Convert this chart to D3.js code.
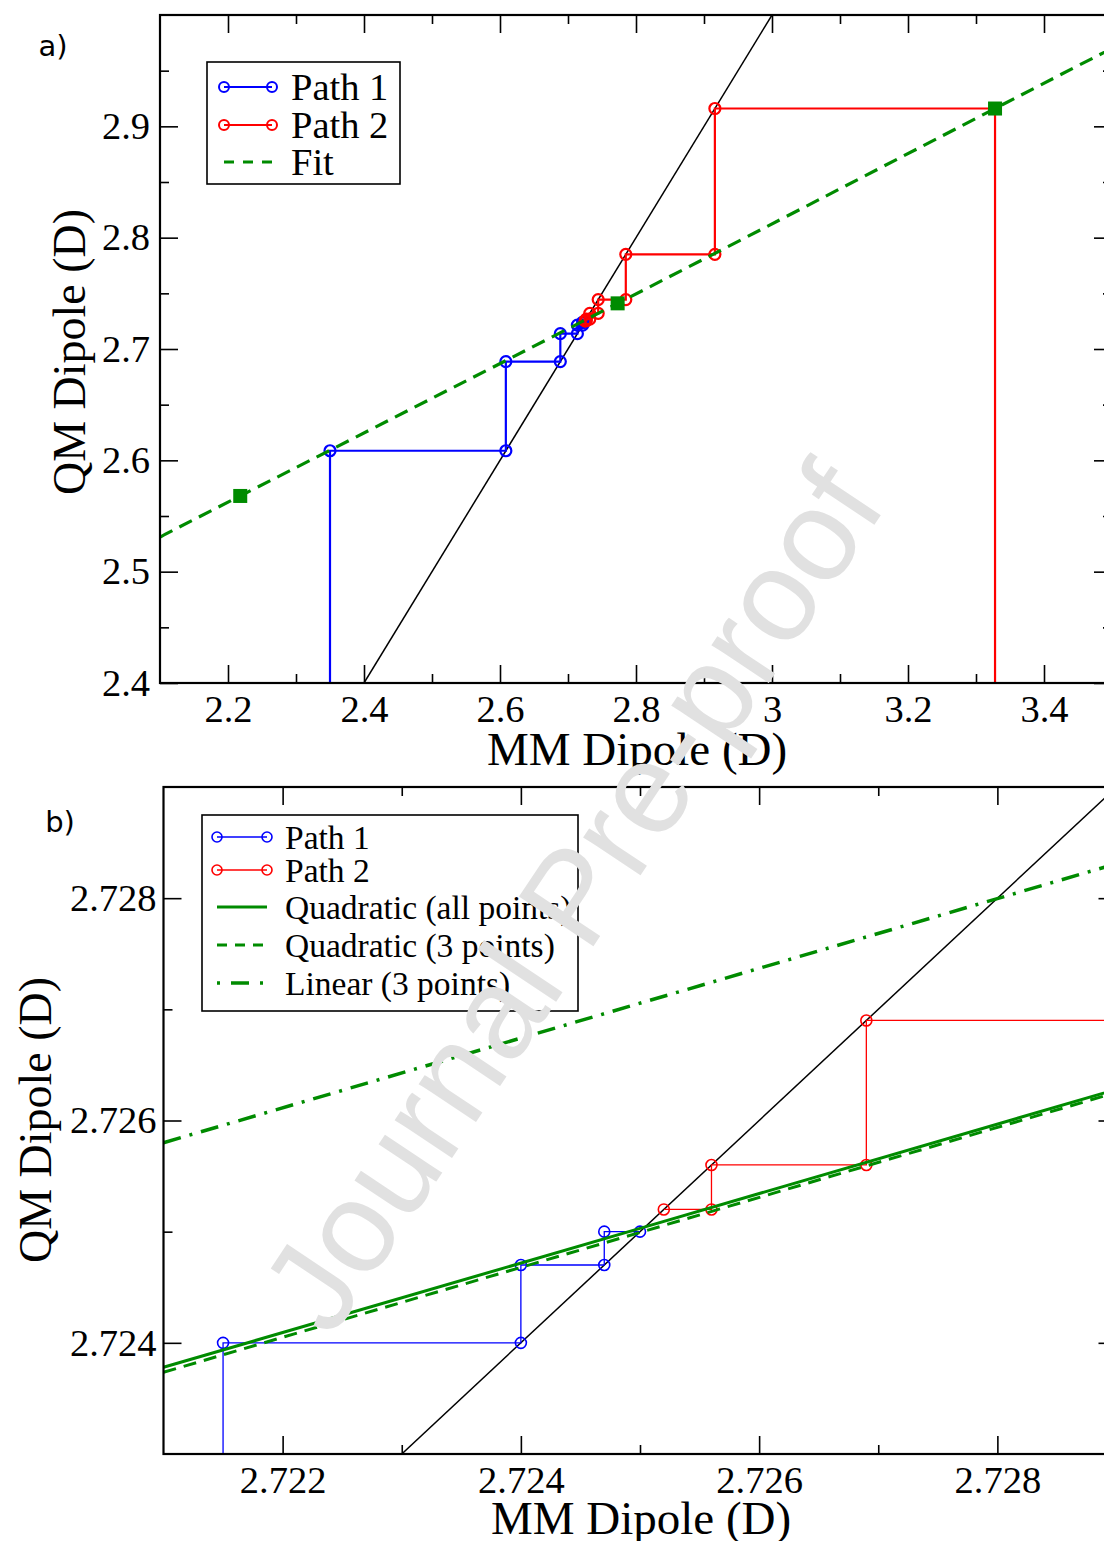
<!DOCTYPE html>
<html><head><meta charset="utf-8">
<script src="https://cdn.jsdelivr.net/npm/d3@7"></script>
<style>html,body{margin:0;padding:0;background:#fff;overflow:hidden}</style>
</head><body><svg id="c" width="1104" height="1541"></svg>
<script>
// ---------- data ----------
// Panel a
const path1MM = [2.35, 2.6086, 2.6887, 2.7138, 2.7215, 2.7240, 2.7247, 2.7250];
const path1QM = [2.6086, 2.6887, 2.7138, 2.7215, 2.7240, 2.7247, 2.7250];
const path2MM = [3.328, 2.916, 2.785, 2.7444, 2.732, 2.7269, 2.7256, 2.7252];
const path2QM = [2.916, 2.785, 2.7444, 2.732, 2.7269, 2.7256, 2.7252];
const pathStartQM = [2.3, 2.3];
const fitPointsMM = [2.218, 2.773, 3.328];
const fitPointsQM = [2.568, 2.741, 2.916];
const fitLineMM = [2.1, 2.218, 2.773, 3.328, 3.5];
const fitLineQM = [2.531, 2.568, 2.741, 2.916, 2.970];
const diagA = [2.4, 3.0];
// Panel b
const quadAllMM = [2.721, 2.725, 2.729];
const quadAllQM = [2.72378, 2.72503, 2.72628];
const quad3MM = [2.721, 2.725, 2.729];
const quad3QM = [2.723735, 2.724993, 2.726253];
const lin3MM = [2.721, 2.729];
const lin3QM = [2.72580, 2.72831];
const diagB = [2.723, 2.729];
// ticks
const xTicksA = [2.2, 2.4, 2.6, 2.8, 3.0, 3.2, 3.4];
const xTickLabelsA = ["2.2", "2.4", "2.6", "2.8", "3", "3.2", "3.4"];
const xMinorA = [2.3, 2.5, 2.7, 2.9, 3.1, 3.3];
const yTicksA = [2.4, 2.5, 2.6, 2.7, 2.8, 2.9];
const yTickLabelsA = ["2.4", "2.5", "2.6", "2.7", "2.8", "2.9"];
const yMinorA = [2.45, 2.55, 2.65, 2.75, 2.85, 2.95];
const xTicksB = [2.722, 2.724, 2.726, 2.728];
const xTickLabelsB = ["2.722", "2.724", "2.726", "2.728"];
const xMinorB = [2.723, 2.725, 2.727];
const yTicksB = [2.724, 2.726, 2.728];
const yTickLabelsB = ["2.724", "2.726", "2.728"];
const yMinorB = [2.725, 2.727];

// ---------- setup ----------
const svg = d3.select("#c");
const SERIF = "'Liberation Serif','Times New Roman',serif";
const SANS = "'DejaVu Sans',sans-serif";
const BLUE = "#0000ff", RED = "#ff0000", GREEN = "#008b00";

const xA = d3.scaleLinear([2.1, 3.5], [160, 1112]);
const yA = d3.scaleLinear([2.4, 3.0], [683, 15]);
const xB = d3.scaleLinear([2.721, 2.729], [163.5, 1116.5]);
const yB = d3.scaleLinear([2.723, 2.729], [1454, 787]);

const defs = svg.append("defs");
defs.append("clipPath").attr("id", "clipA").append("rect")
  .attr("x", xA.range()[0]).attr("y", yA.range()[1])
  .attr("width", xA.range()[1] - xA.range()[0]).attr("height", yA.range()[0] - yA.range()[1]);
defs.append("clipPath").attr("id", "clipB").append("rect")
  .attr("x", xB.range()[0]).attr("y", yB.range()[1])
  .attr("width", xB.range()[1] - xB.range()[0]).attr("height", yB.range()[0] - yB.range()[1]);

function cobweb(mm, qm, start) {
  const pts = [[mm[0], start]];
  for (let i = 0; i < qm.length; i++) {
    pts.push([mm[i], qm[i]]);
    if (i + 1 < mm.length) pts.push([mm[i + 1], qm[i]]);
  }
  return pts;
}
const zip = (a, b) => a.map((v, i) => [v, b[i]]);

function axes(x, y, xt, xtl, xm, yt, ytl, ym, padX, padY) {
  const g = svg.append("g");
  const fmt = (vals, labels) => (d) => labels[vals.indexOf(d)];
  const X0 = x.range()[0], X1 = x.range()[1], Y0 = y.range()[0], Y1 = y.range()[1];
  const mk = (sel, ax) => { sel.call(ax); sel.select(".domain").remove(); return sel; };
  const styl = (sel) => { sel.selectAll("line").attr("stroke", "#000").attr("stroke-width", 1.6);
    sel.selectAll("text").attr("font-family", SERIF).attr("font-size", 38.5).attr("fill", "#000"); };
  styl(mk(g.append("g").attr("transform", `translate(0,${Y0})`),
    d3.axisBottom(x).tickValues(xt).tickFormat(fmt(xt, xtl)).tickSize(-18).tickPadding(padX)));
  styl(mk(g.append("g").attr("transform", `translate(0,${Y0})`),
    d3.axisBottom(x).tickValues(xm).tickFormat("").tickSize(-9)));
  styl(mk(g.append("g").attr("transform", `translate(0,${Y1})`),
    d3.axisTop(x).tickValues(xt).tickFormat("").tickSize(-18)));
  styl(mk(g.append("g").attr("transform", `translate(0,${Y1})`),
    d3.axisTop(x).tickValues(xm).tickFormat("").tickSize(-9)));
  styl(mk(g.append("g").attr("transform", `translate(${X0},0)`),
    d3.axisLeft(y).tickValues(yt).tickFormat(fmt(yt, ytl)).tickSize(-18).tickPadding(padY)));
  styl(mk(g.append("g").attr("transform", `translate(${X0},0)`),
    d3.axisLeft(y).tickValues(ym).tickFormat("").tickSize(-9)));
  styl(mk(g.append("g").attr("transform", `translate(${X1},0)`),
    d3.axisRight(y).tickValues(yt).tickFormat("").tickSize(-18)));
  styl(mk(g.append("g").attr("transform", `translate(${X1},0)`),
    d3.axisRight(y).tickValues(ym).tickFormat("").tickSize(-9)));
  g.append("rect").attr("x", X0).attr("y", Y1).attr("width", X1 - X0).attr("height", Y0 - Y1)
    .attr("fill", "none").attr("stroke", "#000").attr("stroke-width", 2.2);
}

// ---------- panel a ----------
const pa = svg.append("g").attr("clip-path", "url(#clipA)");
const lineA = d3.line().x(d => xA(d[0])).y(d => yA(d[1]));
pa.append("path").attr("d", lineA(zip(diagA, diagA))).attr("fill", "none").attr("stroke", "#000").attr("stroke-width", 1.5);
[[path1MM, path1QM, pathStartQM[0], BLUE], [path2MM, path2QM, pathStartQM[1], RED]].forEach(([mm, qm, s, col]) => {
  const pts = cobweb(mm, qm, s);
  pa.append("path").attr("d", lineA(pts)).attr("fill", "none").attr("stroke", col).attr("stroke-width", 2.2);
  pa.selectAll(null).data(pts.slice(1)).enter().append("circle")
    .attr("cx", d => xA(d[0])).attr("cy", d => yA(d[1])).attr("r", 5.5)
    .attr("fill", "none").attr("stroke", col).attr("stroke-width", 2.2);
});
pa.append("path").attr("d", d3.line().x(d => xA(d[0])).y(d => yA(d[1])).curve(d3.curveNatural)(zip(fitLineMM, fitLineQM)))
  .attr("fill", "none").attr("stroke", GREEN).attr("stroke-width", 3.2).attr("stroke-dasharray", "14,8");
pa.selectAll(null).data(zip(fitPointsMM, fitPointsQM)).enter().append("rect")
  .attr("x", d => xA(d[0]) - 7).attr("y", d => yA(d[1]) - 7).attr("width", 14).attr("height", 14).attr("fill", GREEN);

axes(xA, yA, xTicksA, xTickLabelsA, xMinorA, yTicksA, yTickLabelsA, yMinorA, 12, 10);

// ---------- panel b ----------
const pb = svg.append("g").attr("clip-path", "url(#clipB)");
const lineB = d3.line().x(d => xB(d[0])).y(d => yB(d[1]));
pb.append("path").attr("d", lineB(zip(diagB, diagB))).attr("fill", "none").attr("stroke", "#000").attr("stroke-width", 1.5);
[[path1MM, path1QM, pathStartQM[0], BLUE], [path2MM, path2QM, pathStartQM[1], RED]].forEach(([mm, qm, s, col]) => {
  const pts = cobweb(mm, qm, s);
  pb.append("path").attr("d", lineB(pts)).attr("fill", "none").attr("stroke", col).attr("stroke-width", 1.3);
  pb.selectAll(null).data(pts.slice(1)).enter().append("circle")
    .attr("cx", d => xB(d[0])).attr("cy", d => yB(d[1])).attr("r", 5.5)
    .attr("fill", "none").attr("stroke", col).attr("stroke-width", 1.6);
});
pb.append("path").attr("d", lineB(zip(quadAllMM, quadAllQM))).attr("fill", "none").attr("stroke", GREEN).attr("stroke-width", 3);
pb.append("path").attr("d", lineB(zip(quad3MM, quad3QM))).attr("fill", "none").attr("stroke", GREEN).attr("stroke-width", 3).attr("stroke-dasharray", "13,8");
pb.append("path").attr("d", lineB(zip(lin3MM, lin3QM))).attr("fill", "none").attr("stroke", GREEN).attr("stroke-width", 3.5).attr("stroke-dasharray", "18,9,3,9");

axes(xB, yB, xTicksB, xTickLabelsB, xMinorB, yTicksB, yTickLabelsB, yMinorB, 12, 7);

// ---------- axis titles & panel labels ----------
function txt(x, y, s, size, fam, rot) {
  svg.append("text").attr("x", x).attr("y", y).text(s).attr("font-family", fam).attr("font-size", size)
    .attr("text-anchor", "middle").attr("dominant-baseline", "central")
    .attr("transform", rot ? `rotate(${rot},${x},${y})` : null);
}
txt(637, 749, "MM Dipole (D)", 47, SERIF);
txt(69, 352, "QM Dipole (D)", 46, SERIF, -90);
txt(641, 1518, "MM Dipole (D)", 47, SERIF);
txt(35, 1120, "QM Dipole (D)", 46, SERIF, -90);
txt(53, 46, "a)", 29, SANS);
txt(60, 822, "b)", 29, SANS);

// ---------- legends ----------
function legend(box, items, x1, x2, tx, size) {
  const g = svg.append("g");
  g.append("rect").attr("x", box[0]).attr("y", box[1]).attr("width", box[2] - box[0]).attr("height", box[3] - box[1])
    .attr("fill", "#fff").attr("stroke", "#000").attr("stroke-width", 1.6);
  items.forEach(it => {
    g.append("line").attr("x1", x1).attr("x2", x2).attr("y1", it.y).attr("y2", it.y)
      .attr("stroke", it.color).attr("stroke-width", it.w).attr("stroke-dasharray", it.dash || null);
    if (it.circle) [x1, x2].forEach(cx => g.append("circle").attr("cx", cx).attr("cy", it.y).attr("r", 5)
      .attr("fill", "none").attr("stroke", it.color).attr("stroke-width", it.cw));
    g.append("text").attr("x", tx).attr("y", it.y).attr("dominant-baseline", "central").text(it.label)
      .attr("font-family", SERIF).attr("font-size", size);
  });
}
legend([207, 62, 400, 184], [
  { label: "Path 1", color: BLUE, w: 2.2, circle: true, cw: 2, y: 87 },
  { label: "Path 2", color: RED, w: 2.2, circle: true, cw: 2, y: 125 },
  { label: "Fit", color: GREEN, w: 3, dash: "10,9", y: 162 }
], 224, 272, 291, 38.5);
legend([202, 815, 578, 1011], [
  { label: "Path 1", color: BLUE, w: 1.4, circle: true, cw: 1.6, y: 837 },
  { label: "Path 2", color: RED, w: 1.4, circle: true, cw: 1.6, y: 870 },
  { label: "Quadratic (all points)", color: GREEN, w: 3, y: 907 },
  { label: "Quadratic (3 points)", color: GREEN, w: 3, dash: "10,8", y: 945 },
  { label: "Linear (3 points)", color: GREEN, w: 3.5, dash: "3,11,18,11", y: 983 }
], 217, 267, 285, 33.5);

// ---------- watermark ----------
svg.append("text").attr("x", 572).attr("y", 897).text("Journal Pre-proof")
  .attr("font-family", "'Liberation Sans',Arial,sans-serif").attr("font-size", 130)
  .attr("fill", "#e1e1e1").attr("text-anchor", "middle").attr("dominant-baseline", "central")
  .attr("transform", "rotate(-56.3,572,897)");
</script></body></html>
